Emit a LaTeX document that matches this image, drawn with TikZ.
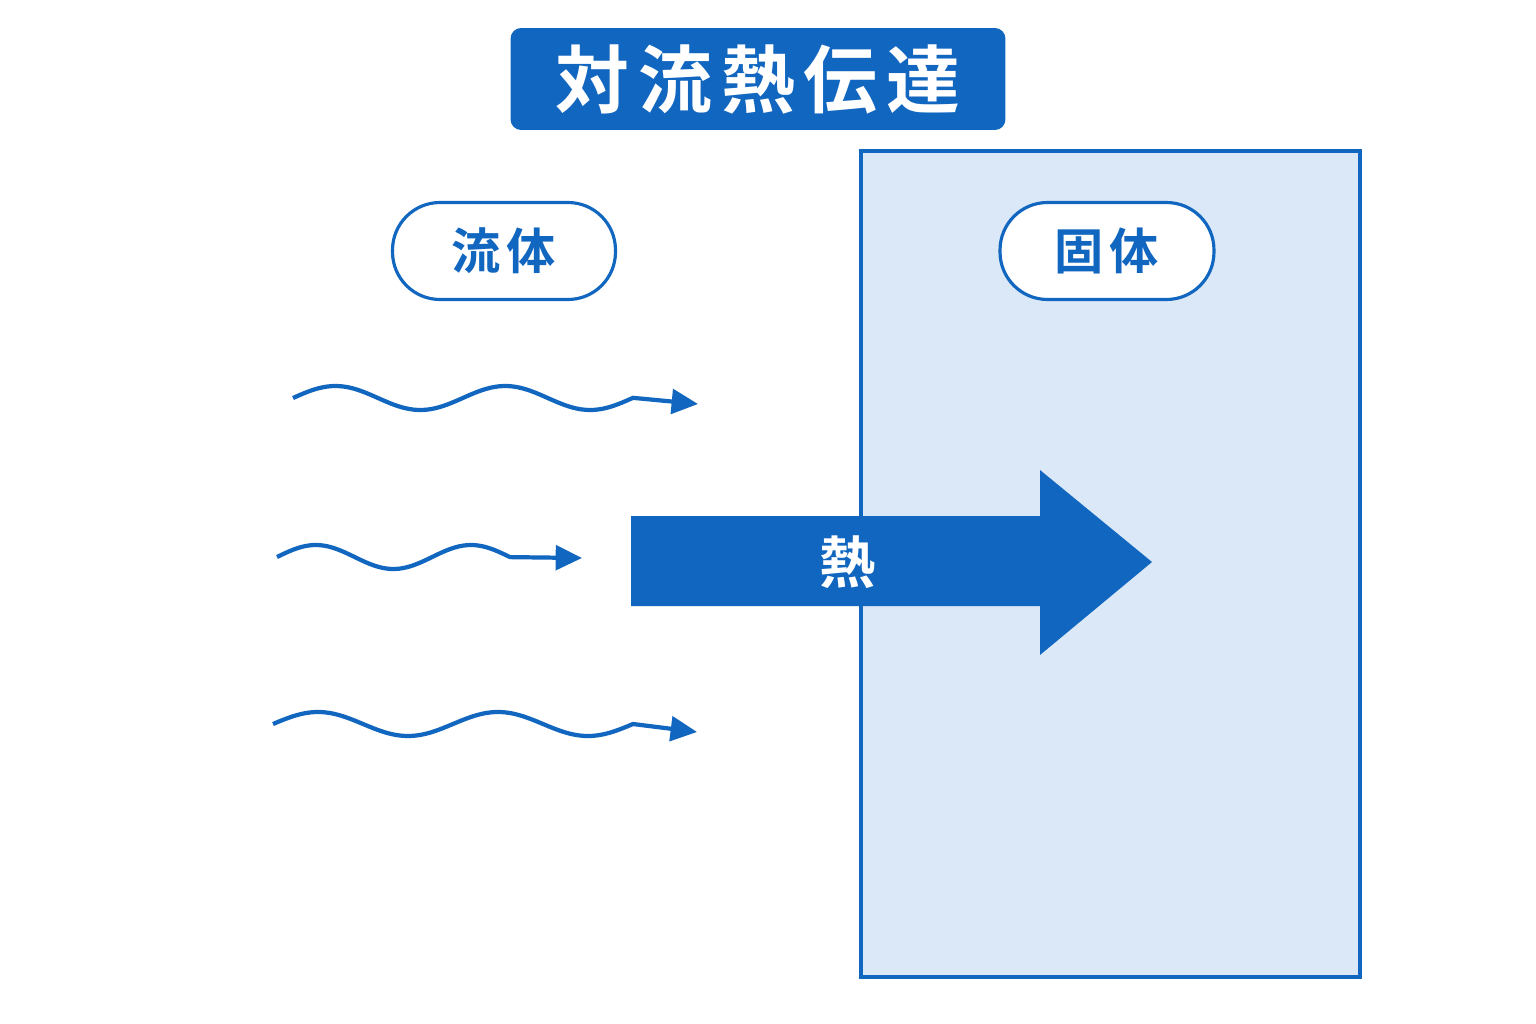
\documentclass[tikz,border=0pt]{standalone}
\usepackage{fontspec}
\newfontfamily\jpfont{Noto Sans CJK JP}[BoldFont={* Bold}]
\newfontfamily\jpwide{Noto Sans CJK JP}[BoldFont={* Bold},LetterSpace=12]
\usetikzlibrary{arrows.meta}
\definecolor{deepblue}{HTML}{1166C0}
\definecolor{paleblue}{HTML}{DAE8F8}
\tikzstyle{titlebox} = [fill=deepblue,rounded corners=6pt,text=white,font=\jpwide\bfseries\fontsize{42}{42}\selectfont,
    minimum width=9.9cm,minimum height=2.04cm,inner sep=0pt]
\tikzstyle{pill} = [draw=deepblue,line width=1.8pt,fill=white,rounded corners=0.95cm,text=deepblue,
    font=\jpwide\bfseries\fontsize{28}{28}\selectfont,minimum height=1.94cm,inner sep=0pt]
\tikzstyle{wave} = [draw=deepblue,line width=2.4pt,-{Triangle[length=15pt,width=14pt]}]
\begin{document}
\begin{tikzpicture}[x=0.02cm,y=-0.02cm]
	\useasboundingbox[fill=white] (0,0) rectangle (1536,1024);
	% solid block
	\draw[draw=deepblue,fill=paleblue,line width=2pt] (861,151) rectangle (1360,977);
	\node(title) at (758,79) [titlebox] {対流熱伝達};
	\node(fluid) at (504,251) [pill,minimum width=4.46cm] {流体};
	\node(solid) at (1107,251) [pill,minimum width=4.28cm] {固体};
	% fluid flow
	\draw[wave] plot[domain=293:633,samples=80,smooth] (\x,{398-12*sin(2.12*(\x-293))}) -- (698,404);
	\draw[wave] plot[domain=277:510,samples=60,smooth] (\x,{557-12*sin(2.32*(\x-277))}) -- (582,558);
	\draw[wave] plot[domain=273:633,samples=80,smooth] (\x,{724-12*sin(2.0*(\x-273))}) -- (697,732);
	% heat arrow
	\fill[deepblue] (631,516) -- (1040,516) -- (1040,470) -- (1152,562) -- (1040,655) -- (1040,606) -- (631,606) -- cycle;
	\node(heat) at (848,562) [text=white,font=\jpfont\bfseries\fontsize{32}{32}\selectfont] {熱};
\end{tikzpicture}
\end{document}
